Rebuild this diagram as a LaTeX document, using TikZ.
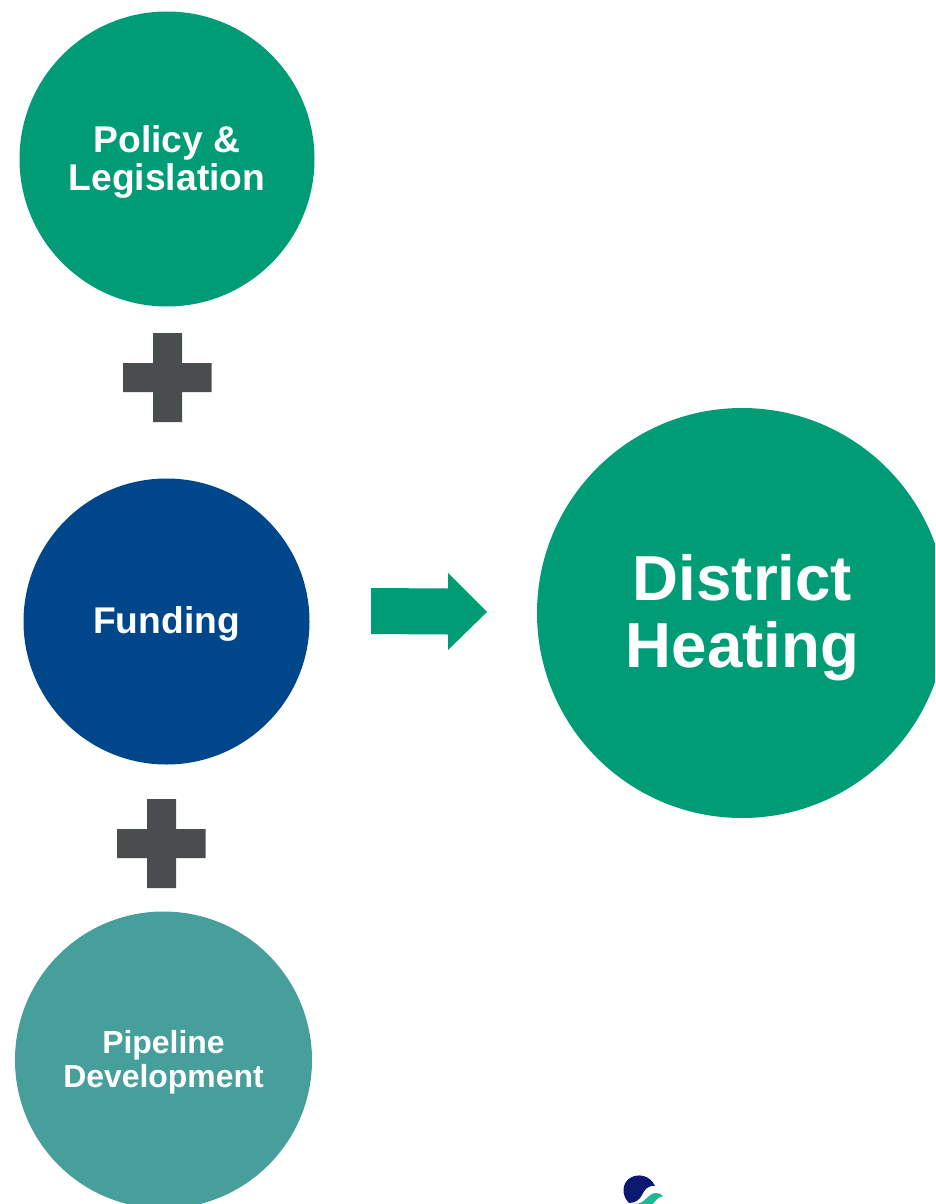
\documentclass[tikz,border=0pt]{standalone}
\usepackage{fontspec}
\setmainfont{Liberation Sans}
\definecolor{dgreen}{HTML}{009C75}
\definecolor{dblue}{HTML}{00468B}
\definecolor{dteal}{HTML}{479F9C}
\definecolor{dgrey}{HTML}{4A4D4E}
\definecolor{logoblue}{HTML}{0B1A70}
\definecolor{logogreen}{HTML}{1DB992}
\tikzset{
  disc/.style={circle,inner sep=0pt,minimum size=#1},
  disclabel/.style={align=center,text=white,inner sep=0pt},
  plusmark/.style={fill=dgrey,draw=none},
}
\begin{document}
\begin{tikzpicture}[x=1pt,y=-1pt]
\useasboundingbox (0,0) rectangle (935,1204);
\clip (0,0) rectangle (935,1204);
\node[disc=295pt,fill=dgreen] (policy) at (167,159) {};
\node[disclabel,font=\fontsize{37.2}{38}\selectfont\bfseries] (policyt) at (167,161.5) {Policy \&\\Legislation};
\node[disc=286pt,fill=dblue] (funding) at (166.5,621.5) {};
\node[disclabel,font=\fontsize{37.2}{38}\selectfont\bfseries] (fundingt) at (166.5,624) {Funding};
\node[disc=297pt,fill=dteal] (pipeline) at (163.5,1060) {};
\node[disclabel,font=\fontsize{31.9}{34}\selectfont\bfseries] (pipelinet) at (163.5,1062) {Pipeline\\Development};
\node[disc=410pt,fill=dgreen] (district) at (742,613) {};
\node[disclabel,font=\fontsize{63.6}{67}\selectfont\bfseries] (districtt) at (742.5,617.5) {District\\Heating};
\fill[plusmark] (153,333) -- (182,333) -- (182,363) -- (211.5,363) -- (211.5,392) -- (182,392) -- (182,422) -- (153,422) -- (153,392) -- (123,392) -- (123,363) -- (153,363) -- cycle;
\fill[plusmark] (147,799) -- (176,799) -- (176,829) -- (205.5,829) -- (205.5,858) -- (176,858) -- (176,888) -- (147,888) -- (147,858) -- (117,858) -- (117,829) -- (147,829) -- cycle;
\fill[dgreen] (371,588) -- (448,588.5) -- (448,573) -- (487,612) -- (448,650) -- (448,634.5) -- (371,634) -- cycle;
% logo
\fill[logoblue] (629,1203) .. controls (621,1195) and (622,1183) .. (630,1178) .. controls (638,1173) and (650,1175) .. (655,1186) .. controls (647,1185) and (644,1191) .. (642,1195) .. controls (640,1199) and (636,1203) .. (629,1203) -- cycle;
\fill[logogreen] (635,1204) .. controls (645,1204) and (648,1193) .. (656,1193) .. controls (659,1193) and (661,1194) .. (663,1196) .. controls (658,1197) and (655,1201) .. (653,1204) -- cycle;
\end{tikzpicture}
\end{document}
